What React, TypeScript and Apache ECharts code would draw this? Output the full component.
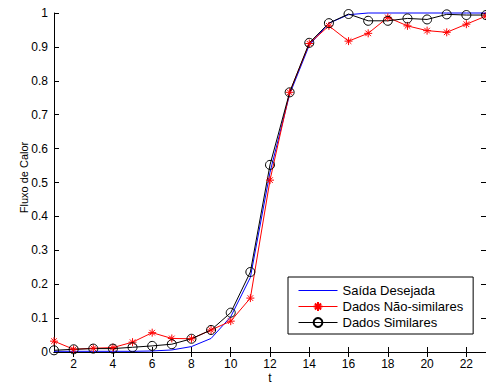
import React, { useEffect, useRef } from "react";
import * as echarts from "echarts";

const tValues = [1, 2, 3, 4, 5, 6, 7, 8, 9, 10, 11, 12, 13, 14, 15, 16, 17, 18, 19, 20, 21, 22, 23];
const saidaDesejada = [0.002, 0.002, 0.002, 0.002, 0.002, 0.003, 0.006, 0.016, 0.04, 0.104, 0.22, 0.53, 0.76, 0.905, 0.97, 0.995, 1, 1, 1, 1, 1, 1, 1];
const dadosNaoSimilares = [0.032, 0.008, 0.011, 0.013, 0.029, 0.057, 0.04, 0.039, 0.065, 0.091, 0.159, 0.507, 0.766, 0.91, 0.962, 0.917, 0.94, 0.987, 0.962, 0.948, 0.943, 0.967, 0.991];
const dadosSimilares = [0.005, 0.008, 0.01, 0.01, 0.014, 0.018, 0.023, 0.039, 0.065, 0.116, 0.236, 0.552, 0.766, 0.912, 0.97, 0.997, 0.977, 0.977, 0.984, 0.981, 0.996, 0.994, 0.994];
const xTickLabels = [2, 4, 6, 8, 10, 12, 14, 16, 18, 20, 22];
const seriesNames = ["Saída Desejada", "Dados Não-similares", "Dados Similares"];

const FONT = "'Liberation Sans', Arial, Helvetica, sans-serif";
const STAR = "path://M0,-5L0,5M-5,0L5,0M-3.5,-3.5L3.5,3.5M-3.5,3.5L3.5,-3.5";
const LINE_ICON = "path://M0,0L39,0L39,1.2L0,1.2Z";

export default function App() {
  const ref = useRef<HTMLDivElement>(null);
  useEffect(() => {
    if (!ref.current) return;
    const chart = echarts.init(ref.current, null, { renderer: "svg" });
    const pair = (arr: number[]) => tValues.map((t, i) => [t, arr[i]]);
    const axisLine = { show: true, lineStyle: { color: "#000", width: 1 } };
    chart.setOption({
      animation: false,
      backgroundColor: "#fff",
      textStyle: { fontFamily: FONT },
      grid: { left: 54, top: 13, width: 432, bottom: 35, containLabel: false, outerBoundsMode: "none" },
      legend: {
        orient: "vertical",
        left: 288,
        top: 277,
        width: 183,
        backgroundColor: "#fff",
        borderColor: "#000",
        borderWidth: 1,
        borderRadius: 0,
        padding: [7, 10, 5, 10],
        itemWidth: 39,
        itemHeight: 11,
        itemGap: 3,
        lineStyle: { width: 1 },
        textStyle: { fontFamily: FONT, fontSize: 13, color: "#000", padding: [0, 0, 0, 0] },
        data: [
          { name: seriesNames[0], icon: LINE_ICON },
          { name: seriesNames[1] },
          { name: seriesNames[2] },
        ],
      },
      xAxis: [
        {
          type: "value",
          min: 1,
          max: 23,
          position: "bottom",
          name: "t",
          nameLocation: "middle",
          nameGap: 20,
          nameMoveOverlap: false,
          nameTextStyle: { fontFamily: FONT, fontSize: 12, color: "#000" },
          axisLine,
          axisTick: { show: true, inside: true, length: 5, customValues: xTickLabels, lineStyle: { color: "#000" } },
          axisLabel: { show: true, customValues: xTickLabels, fontFamily: FONT, fontSize: 12, color: "#000", margin: 6 },
          splitLine: { show: false },
        },
        {
          type: "value",
          min: 1,
          max: 23,
          position: "top",
          axisLine,
          axisTick: { show: true, inside: true, length: 5, customValues: xTickLabels, lineStyle: { color: "#000" } },
          axisLabel: { show: false },
          splitLine: { show: false },
        },
      ],
      yAxis: [
        {
          type: "value",
          min: 0,
          max: 1,
          interval: 0.1,
          position: "left",
          name: "Fluxo de Calor",
          nameLocation: "middle",
          nameGap: 25,
          nameMoveOverlap: false,
          nameTextStyle: { fontFamily: FONT, fontSize: 11, color: "#000", padding: [0, 0, 0, 10] },
          axisLine,
          axisTick: { show: true, inside: true, length: 5, lineStyle: { color: "#000" } },
          axisLabel: { fontFamily: FONT, fontSize: 12, color: "#000", margin: 6 },
          splitLine: { show: false },
        },
        {
          type: "value",
          min: 0,
          max: 1,
          interval: 0.1,
          position: "right",
          axisLine,
          axisTick: { show: true, inside: true, length: 5, lineStyle: { color: "#000" } },
          axisLabel: { show: false },
          splitLine: { show: false },
        },
      ],
      series: [
        {
          name: seriesNames[0],
          type: "line",
          data: pair(saidaDesejada),
          symbol: "none",
          lineStyle: { color: "#0000ff", width: 1 },
          itemStyle: { color: "#0000ff" },
          clip: false,
        },
        {
          name: seriesNames[1],
          type: "line",
          data: pair(dadosNaoSimilares),
          symbol: STAR,
          symbolSize: 8,
          showAllSymbol: true,
          lineStyle: { color: "#ff0000", width: 1 },
          itemStyle: { color: "#ff0000", borderColor: "#ff0000", borderWidth: 1 },
          clip: false,
        },
        {
          name: seriesNames[2],
          type: "line",
          data: pair(dadosSimilares),
          symbol: "circle",
          symbolSize: 9,
          showAllSymbol: true,
          lineStyle: { color: "#000000", width: 1 },
          itemStyle: { color: "rgba(255,255,255,0)", borderColor: "#000000", borderWidth: 1 },
          clip: false,
        },
      ],
    });
    return () => chart.dispose();
  }, []);
  return (
    <div
      ref={ref}
      style={{ position: "fixed", left: 0, top: 0, width: 486, height: 387, background: "#fff" }}
    />
  );
}
